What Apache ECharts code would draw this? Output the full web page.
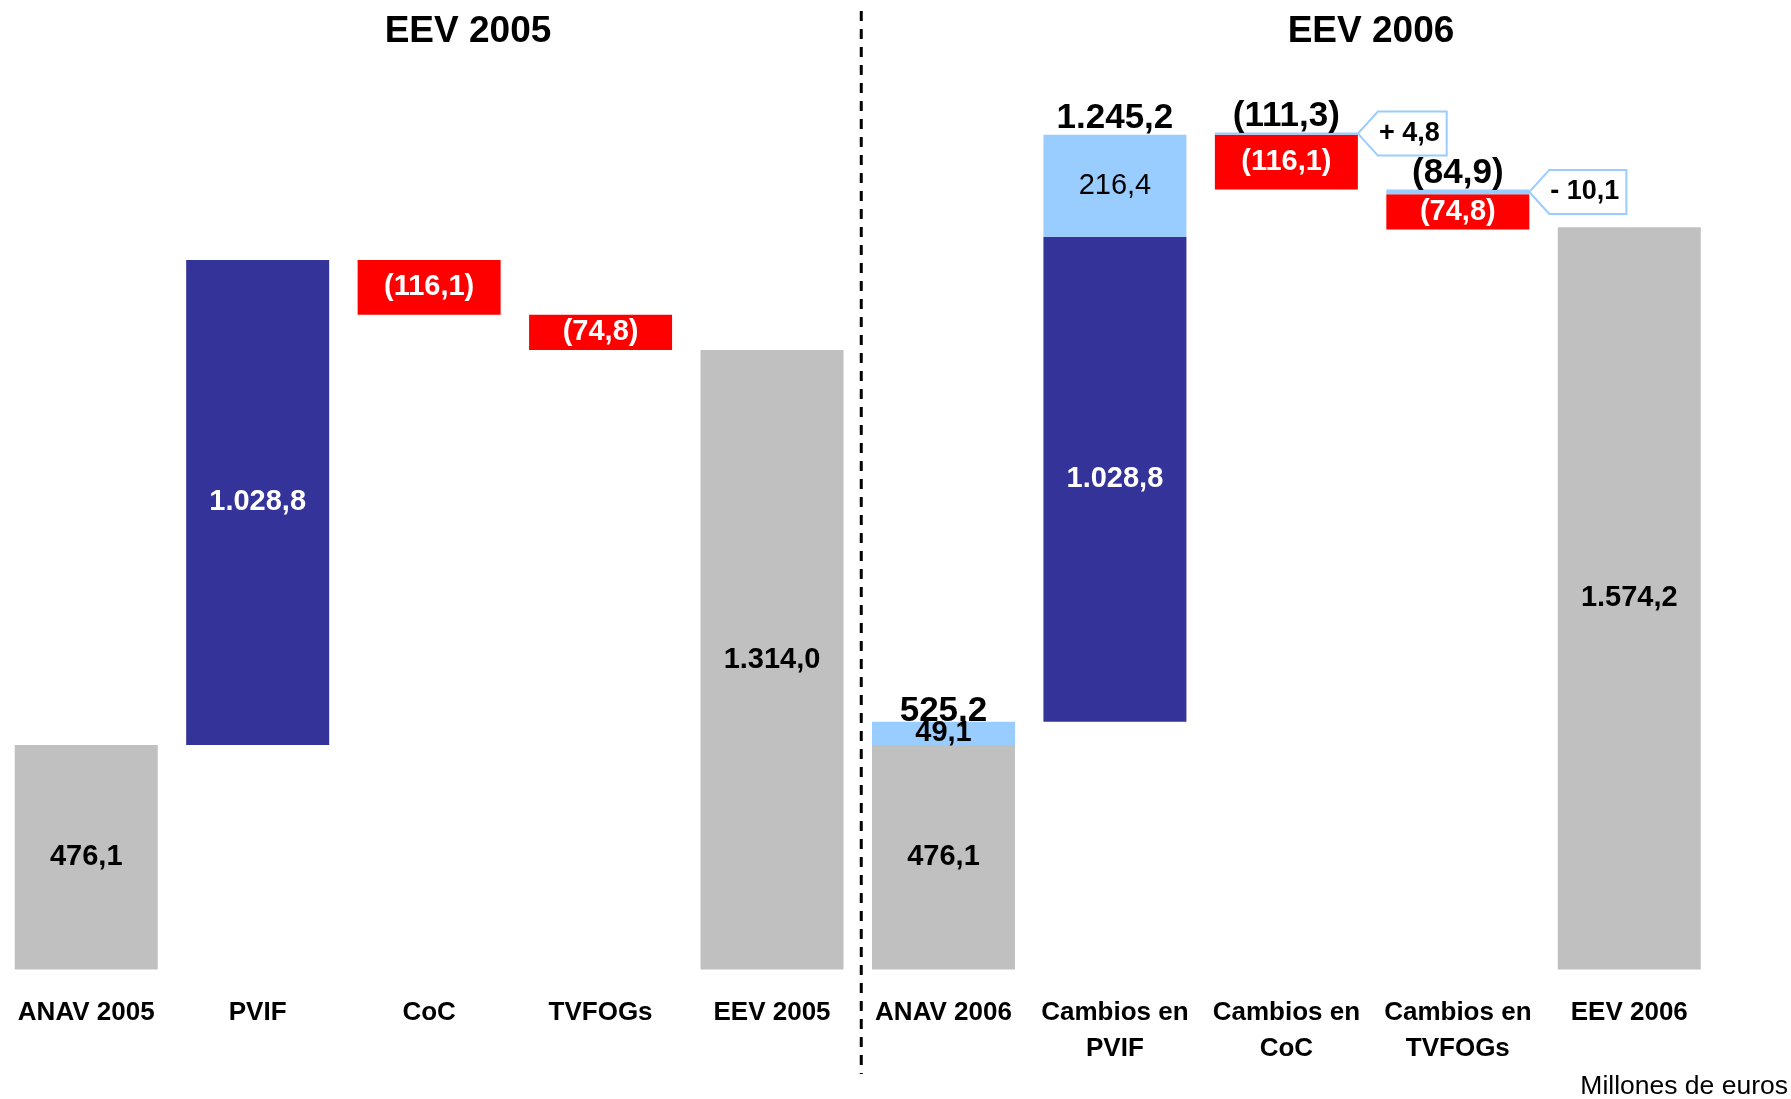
<!DOCTYPE html>
<html lang="es">
<head>
    <meta charset="UTF-8">
    <script type="text/javascript" src="https://cdn.jsdelivr.net/npm/echarts@6/dist/echarts.min.js"></script>
    <style>
        html, body {margin: 0; padding: 0; background: #fff;}
        #main {width: 1791px; height: 1099px;}
    </style>
</head>
<body>
<div id="main"></div>
<script>
    // datos (millones de euros)
    var categories = ['ANAV 2005', 'PVIF', 'CoC', 'TVFOGs', 'EEV 2005',
        'ANAV 2006', 'Cambios en\nPVIF', 'Cambios en\nCoC', 'Cambios en\nTVFOGs', 'EEV 2006'];
    var baseVals  = [0, 476.1, 1388.8, 1314.0, 0, 0, 525.2, 1654.3, 1569.4, 0];   // tramo invisible
    var grayVals  = [476.1, '-', '-', '-', 1314.0, 476.1, '-', '-', '-', 1574.2];
    var darkVals  = ['-', 1028.8, '-', '-', '-', '-', 1028.8, '-', '-', '-'];
    var redVals   = ['-', '-', 116.1, 74.8, '-', '-', '-', 116.1, 74.8, '-'];
    var lightVals = ['-', '-', '-', '-', '-', 49.1, 216.4, 4.8, 10.1, '-'];
    var lightText = [null, null, null, null, null, '49,1', '216,4', null, null, null];
    var topVals   = [null, null, null, null, null, 525.2, 1245.2, -111.3, -84.9, null];
    var calloutVals = [null, null, null, null, null, null, null, 4.8, -10.1, null];

    var FONT = '"Liberation Sans", Arial, sans-serif';
    var BAR_W = 143;

    function num(v) { return (v === '-' || v == null) ? 0 : v; }
    function fmt(v) {
        var s = Math.abs(v).toFixed(1).split('.');
        var ent = s[0].replace(/\B(?=(\d{3})+(?!\d))/g, '.');
        var t = ent + ',' + s[1];
        return v < 0 ? '(' + t + ')' : t;
    }

    var topData = [];
    var calloutData = [];
    categories.forEach(function (c, i) {
        var top = baseVals[i] + num(grayVals[i]) + num(darkVals[i]) + num(redVals[i]) + num(lightVals[i]);
        if (topVals[i] != null) {
            topData.push({value: [i, top], label: {distance: i === 5 ? -7 : -2}, name: fmt(topVals[i])});
        }
        if (calloutVals[i] != null) {
            var mid = baseVals[i] + num(redVals[i]) + num(lightVals[i]) / 2;
            var txt = (calloutVals[i] > 0 ? '+ ' : '- ') + fmt(Math.abs(calloutVals[i]));
            calloutData.push({value: [i, mid], name: txt});
        }
    });

    var measureCtx = document.createElement('canvas').getContext('2d');

    var myChart = echarts.init(document.getElementById('main'));

    function inside(color, weight, size) {
        return {
            show: true, position: 'inside', color: color,
            fontFamily: FONT, fontWeight: weight, fontSize: size,
            formatter: function (p) { return fmt(p.value); }
        };
    }

    myChart.setOption({
        backgroundColor: '#fff',
        animation: false,
        title: [
            {text: 'EEV 2005', left: 468, top: 13, textAlign: 'center', padding: 0,
                textStyle: {fontFamily: FONT, fontSize: 37, fontWeight: 'bold', color: '#000'}},
            {text: 'EEV 2006', left: 1371, top: 13, textAlign: 'center', padding: 0,
                textStyle: {fontFamily: FONT, fontSize: 37, fontWeight: 'bold', color: '#000'}}
        ],
        grid: {left: 0.5, right: 76, top: 26.5, bottom: 129.5, containLabel: false},
        xAxis: {
            type: 'category',
            data: categories,
            axisLine: {show: false},
            axisTick: {show: false},
            axisLabel: {
                interval: 0, margin: 25, color: '#000',
                fontFamily: FONT, fontSize: 26, fontWeight: 'bold', lineHeight: 36
            }
        },
        yAxis: {type: 'value', min: 0, max: 2000, show: false},
        series: [
            {
                name: 'base', type: 'bar', stack: 'w', barWidth: BAR_W,
                itemStyle: {color: 'transparent'}, silent: true,
                data: baseVals
            },
            {
                name: 'gris', type: 'bar', stack: 'w', barWidth: BAR_W,
                itemStyle: {color: '#C0C0C0'},
                label: inside('#000', 'bold', 29),
                data: grayVals
            },
            {
                name: 'azul', type: 'bar', stack: 'w', barWidth: BAR_W,
                itemStyle: {color: '#333399'},
                label: inside('#fff', 'bold', 29),
                data: darkVals
            },
            {
                name: 'rojo', type: 'bar', stack: 'w', barWidth: BAR_W,
                itemStyle: {color: '#FF0000'},
                label: {
                    show: true, position: 'inside', color: '#fff',
                    fontFamily: FONT, fontWeight: 'bold', fontSize: 29,
                    formatter: function (p) { return fmt(-p.value); }
                },
                data: redVals
            },
            {
                name: 'celeste', type: 'bar', stack: 'w', barWidth: BAR_W,
                itemStyle: {color: '#99CCFF'},
                label: {
                    show: true, position: 'inside', color: '#000',
                    fontFamily: FONT, fontSize: 29,
                    formatter: function (p) { return lightText[p.dataIndex] || ''; }
                },
                data: lightVals.map(function (v, i) {
                    return i === 5 ? {value: v, label: {fontWeight: 'bold'}} : v;
                })
            },
            {
                name: 'totales', type: 'scatter', symbolSize: 0, silent: true,
                itemStyle: {opacity: 1},
                label: {
                    show: true, position: 'top', color: '#000',
                    fontFamily: FONT, fontWeight: 'bold', fontSize: 35, lineHeight: 36,
                    formatter: function (p) { return p.name; }
                },
                data: topData
            },
            {
                name: 'ajustes', type: 'custom', silent: true,
                renderItem: function (params, api) {
                    var p = api.coord([api.value(0), api.value(1)]);
                    var txt = calloutData[params.dataIndex].name;
                    measureCtx.font = 'bold 27px ' + FONT;
                    var w = measureCtx.measureText(txt).width + 8;
                    var h = 44;
                    var tipX = p[0] + BAR_W / 2, tipY = p[1];
                    var left = tipX + 20;
                    return {
                        type: 'group',
                        children: [
                            {
                                type: 'polygon',
                                shape: {points: [[tipX, tipY], [left, tipY - h / 2], [left + w, tipY - h / 2],
                                    [left + w, tipY + h / 2], [left, tipY + h / 2]]},
                                style: {fill: '#fff', stroke: '#99CCFF', lineWidth: 2}
                            },
                            {
                                type: 'text',
                                style: {
                                    x: left + w / 2 - 3, y: tipY, text: txt,
                                    align: 'center', verticalAlign: 'middle',
                                    font: 'bold 27px ' + FONT, fill: '#000'
                                }
                            }
                        ]
                    };
                },
                data: calloutData
            }
        ]
    });

    // linea discontinua entre los dos bloques
    var x4 = myChart.convertToPixel({xAxisIndex: 0}, 4);
    var x5 = myChart.convertToPixel({xAxisIndex: 0}, 5);
    var xs = (x4 + x5) / 2 + 3.5;
    myChart.setOption({
        graphic: [
            {
                type: 'line', silent: true,
                shape: {x1: xs, y1: 11, x2: xs, y2: 1074},
                style: {stroke: '#000', lineWidth: 3, lineDash: [10, 8]}
            },
            {
                type: 'text', right: 3, top: 1073, silent: true,
                style: {text: 'Millones de euros', font: '26.5px ' + FONT, fill: '#000'}
            }
        ]
    });
</script>
</body>
</html>
